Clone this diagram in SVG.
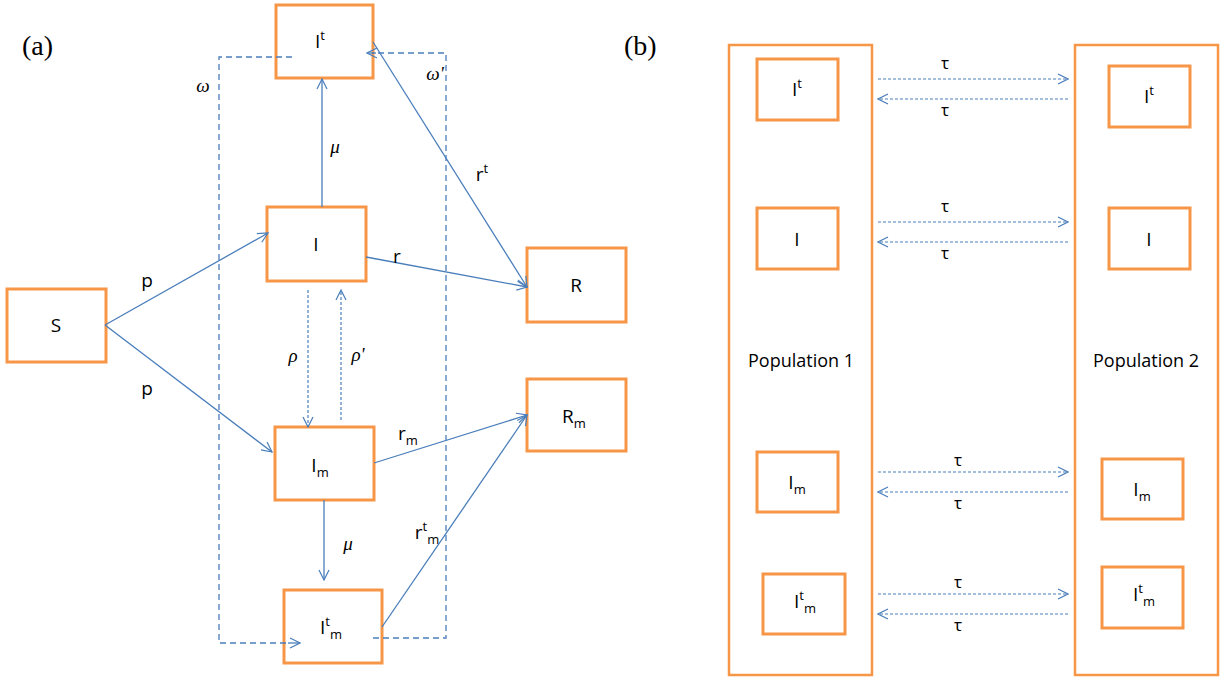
<svg xmlns="http://www.w3.org/2000/svg" width="1221" height="679" viewBox="0 0 1221 679">
<defs>
<marker id="ah" viewBox="0 0 12 12" refX="11" refY="6" markerWidth="12" markerHeight="12" markerUnits="userSpaceOnUse" orient="auto">
<path d="M1,1 L11,6 L1,11" fill="none" stroke="#4A7EBB" stroke-width="1.2"/>
</marker>
<style>
.box{fill:#fff;stroke:#F79646;stroke-width:3}
.pop{fill:none;stroke:#F79646;stroke-width:2.5}
.ln{fill:none;stroke:#4A7EBB;stroke-width:1.3;marker-end:url(#ah)}
.ds{fill:none;stroke:#4A7EBB;stroke-width:1.3;stroke-dasharray:6,4}
.dt{fill:none;stroke:#4A7EBB;stroke-width:1.2;stroke-dasharray:3,2;marker-end:url(#ah)}
.t{font-family:"Open Sans","Liberation Sans",sans-serif;font-size:19px;fill:#000;text-anchor:middle}
.s{font-size:13px}
.g{font-family:"Liberation Serif",serif;font-style:italic;font-size:19px;fill:#000;text-anchor:middle}
.tau{font-family:"Open Sans","Liberation Sans",sans-serif;font-size:17px;fill:#000;text-anchor:middle}
.lab{font-family:"Liberation Serif",serif;font-size:28px;fill:#000}
</style>
</defs>
<text class="lab" x="22" y="55">(a)</text>
<text class="lab" x="624" y="55">(b)</text>

<g id="S"><rect class="box" x="7" y="289" width="99" height="73"/><text class="t" x="56" y="332">S</text></g>
<g id="It"><rect class="box" x="276" y="5" width="97" height="73"/><text class="t" x="320" y="48">I<tspan class="s" dy="-8">t</tspan></text></g>
<g id="I"><rect class="box" x="267" y="207" width="99" height="74"/><text class="t" x="316" y="251">I</text></g>
<g id="Im"><rect class="box" x="275" y="427" width="99" height="73"/><text class="t" x="320" y="472">I<tspan class="s" dy="5">m</tspan></text></g>
<g id="Itm"><rect class="box" x="284" y="590" width="98" height="73"/><text class="t" x="331" y="634">I<tspan class="s" dy="-8">t</tspan><tspan class="s" dy="13">m</tspan></text></g>
<g id="R"><rect class="box" x="527" y="248" width="99" height="74"/><text class="t" x="576" y="292">R</text></g>
<g id="Rm"><rect class="box" x="527" y="379" width="99" height="72"/><text class="t" x="574" y="423">R<tspan class="s" dy="5">m</tspan></text></g>

<g id="pop1"><rect class="pop" x="729" y="45" width="143" height="630"/><text class="t" x="801" y="367" style="font-size:18px">Population 1</text></g>
<g id="pop2"><rect class="pop" x="1075" y="45" width="143" height="630"/><text class="t" x="1146" y="367" style="font-size:18px">Population 2</text></g>

<g id="p1It"><rect class="box" x="757" y="59" width="81" height="61"/><text class="t" x="797" y="96">I<tspan class="s" dy="-8">t</tspan></text></g>
<g id="p1I"><rect class="box" x="757" y="208" width="81" height="61"/><text class="t" x="797" y="246">I</text></g>
<g id="p1Im"><rect class="box" x="757" y="452" width="81" height="60"/><text class="t" x="797" y="489">I<tspan class="s" dy="5">m</tspan></text></g>
<g id="p1Itm"><rect class="box" x="763" y="574" width="82" height="60"/><text class="t" x="805" y="608">I<tspan class="s" dy="-8">t</tspan><tspan class="s" dy="13">m</tspan></text></g>
<g id="p2It"><rect class="box" x="1109" y="66" width="81" height="61"/><text class="t" x="1149" y="103">I<tspan class="s" dy="-8">t</tspan></text></g>
<g id="p2I"><rect class="box" x="1109" y="208" width="81" height="61"/><text class="t" x="1149" y="246">I</text></g>
<g id="p2Im"><rect class="box" x="1102" y="459" width="81" height="60"/><text class="t" x="1142" y="496">I<tspan class="s" dy="5">m</tspan></text></g>
<g id="p2Itm"><rect class="box" x="1102" y="567" width="81" height="61"/><text class="t" x="1144" y="601">I<tspan class="s" dy="-8">t</tspan><tspan class="s" dy="13">m</tspan></text></g>

<g id="connectors">
<path class="ln" d="M105,325 L268,233"/>
<path class="ln" d="M105,325 L272,452"/>
<path class="ln" d="M322,207 L322,79"/>
<path class="ln" d="M366,257 L527,287"/>
<path class="ln" d="M373,42 L527,287"/>
<path class="ln" d="M374,463 L527,415"/>
<path class="ln" d="M324,500 L324,580"/>
<path class="ln" d="M382,627 L527,415"/>
<path class="dt" d="M308,290 L308,427"/>
<path class="dt" d="M341,420 L341,290"/>
<path class="ds" d="M292,57 L219,57 L219,643 L290,643"/>
<path class="ln" d="M288,643 L300,643"/>
<path class="ds" d="M373,638 L446,638 L446,53 L372,53"/>
<path class="ln" d="M376,53 L367,53"/>
<path class="dt" d="M878,79 L1068,79"/><path class="dt" d="M1068,99 L878,99"/>
<path class="dt" d="M878,222 L1068,222"/><path class="dt" d="M1068,242 L878,242"/>
<path class="dt" d="M878,472 L1068,472"/><path class="dt" d="M1068,492 L878,492"/>
<path class="dt" d="M878,594 L1068,594"/><path class="dt" d="M1068,614 L878,614"/>
</g>

<g id="labels">
<text class="t" x="147" y="287">p</text>
<text class="t" x="147" y="395">p</text>
<text class="g" x="203" y="92">ω</text>
<text class="g" x="435" y="80">ω'</text>
<text class="g" x="335" y="153">μ</text>
<text class="g" x="348" y="550">μ</text>
<text class="g" x="293" y="362">ρ</text>
<text class="g" x="358" y="361">ρ'</text>
<text class="t" x="397" y="263">r</text>
<text class="t" x="482" y="181">r<tspan class="s" dy="-8">t</tspan></text>
<text class="t" x="408" y="440">r<tspan class="s" dy="5">m</tspan></text>
<text class="t" x="427" y="539">r<tspan class="s" dy="-8">t</tspan><tspan class="s" dy="13">m</tspan></text>
<text class="tau" x="945" y="69">τ</text><text class="tau" x="945" y="116">τ</text>
<text class="tau" x="945" y="212">τ</text><text class="tau" x="945" y="259">τ</text>
<text class="tau" x="958" y="466">τ</text><text class="tau" x="958" y="509">τ</text>
<text class="tau" x="958" y="588">τ</text><text class="tau" x="958" y="631">τ</text>
</g>
</svg>
